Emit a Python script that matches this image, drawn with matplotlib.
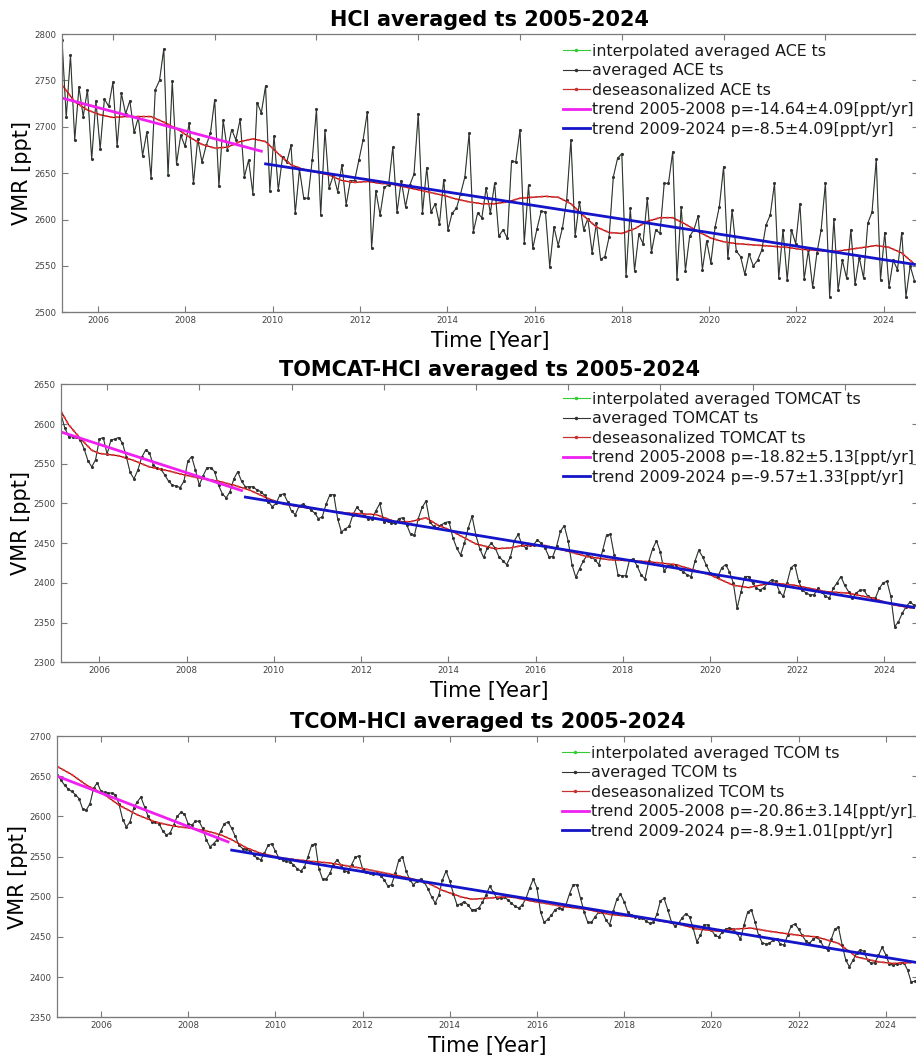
import numpy as np
import matplotlib
matplotlib.use("Agg")
from matplotlib import pyplot as plt
from matplotlib.lines import Line2D

# monthly HCl means [ppt], first value = January 2005
ace_vmr = [
    2794, 2710, 2777, 2686, 2743, 2711, 2740, 2665, 2728, 2676, 2730, 2722,
    2748, 2679, 2736, 2714, 2728, 2694, 2710, 2669, 2694, 2645, 2740, 2750,
    2784, 2648, 2749, 2660, 2691, 2679, 2704, 2639, 2687, 2662, 2680, 2693,
    2729, 2636, 2707, 2675, 2697, 2686, 2708, 2646, 2664, 2628, 2726, 2715,
    2744, 2631, 2690, 2632, 2667, 2662, 2680, 2607, 2654, 2623, 2623, 2664,
    2719, 2605, 2696, 2634, 2648, 2630, 2659, 2616, 2642, 2642, 2664, 2686,
    2716, 2569, 2631, 2605, 2635, 2637, 2678, 2608, 2642, 2614, 2637, 2649,
    2714, 2607, 2656, 2608, 2617, 2595, 2643, 2589, 2607, 2612, 2628, 2646,
    2693, 2587, 2607, 2602, 2634, 2607, 2639, 2582, 2589, 2580, 2663, 2662,
    2697, 2575, 2637, 2569, 2590, 2609, 2608, 2549, 2592, 2572, 2591, 2621,
    2686, 2582, 2619, 2589, 2601, 2564, 2596, 2557, 2560, 2581, 2646, 2666,
    2671, 2539, 2612, 2545, 2584, 2574, 2623, 2565, 2589, 2585, 2639, 2639,
    2673, 2536, 2614, 2545, 2582, 2589, 2604, 2546, 2577, 2553, 2592, 2614,
    2657, 2558, 2610, 2566, 2560, 2541, 2563, 2550, 2556, 2567, 2594, 2605,
    2639, 2537, 2589, 2535, 2589, 2574, 2617, 2536, 2567, 2527, 2564, 2589,
    2639, 2517, 2601, 2524, 2556, 2537, 2589, 2530, 2559, 2537, 2596, 2608,
    2665, 2535, 2586, 2527, 2556, 2546, 2586, 2517, 2550, 2534,
]
tomcat_vmr = [
    2612, 2595, 2584, 2584, 2584, 2580, 2569, 2554, 2546, 2555, 2581, 2583,
    2562, 2580, 2581, 2583, 2576, 2559, 2539, 2531, 2542, 2558, 2567, 2564,
    2549, 2544, 2543, 2536, 2528, 2523, 2522, 2520, 2528, 2553, 2559, 2542,
    2523, 2535, 2545, 2545, 2540, 2523, 2512, 2507, 2515, 2531, 2540, 2528,
    2521, 2521, 2521, 2517, 2515, 2510, 2502, 2496, 2500, 2511, 2512, 2502,
    2490, 2486, 2497, 2499, 2496, 2492, 2488, 2481, 2483, 2499, 2511, 2511,
    2481, 2464, 2468, 2471, 2486, 2495, 2490, 2486, 2480, 2481, 2491, 2500,
    2477, 2478, 2475, 2475, 2481, 2482, 2473, 2461, 2460, 2481, 2495, 2503,
    2477, 2471, 2469, 2473, 2476, 2477, 2457, 2444, 2435, 2450, 2469, 2484,
    2460, 2443, 2432, 2444, 2450, 2444, 2433, 2428, 2423, 2433, 2453, 2461,
    2448, 2444, 2448, 2448, 2454, 2450, 2444, 2433, 2433, 2446, 2465, 2472,
    2453, 2423, 2407, 2418, 2428, 2435, 2433, 2429, 2423, 2441, 2460, 2461,
    2435, 2410, 2409, 2409, 2429, 2430, 2421, 2410, 2405, 2427, 2443, 2453,
    2439, 2415, 2421, 2423, 2423, 2417, 2414, 2410, 2408, 2427, 2441, 2433,
    2422, 2412, 2410, 2408, 2419, 2423, 2414, 2400, 2368, 2389, 2408, 2408,
    2400, 2393, 2391, 2394, 2400, 2404, 2402, 2389, 2383, 2400, 2419, 2423,
    2402, 2391, 2387, 2385, 2385, 2393, 2389, 2383, 2381, 2393, 2400, 2408,
    2397, 2389, 2381, 2387, 2391, 2391, 2383, 2381, 2381, 2393, 2400, 2402,
    2383, 2345, 2351, 2362, 2370, 2376, 2372,
]
tcom_vmr = [
    2652, 2645, 2639, 2634, 2631, 2627, 2622, 2609, 2608, 2616, 2635, 2642,
    2631, 2630, 2629, 2629, 2627, 2615, 2596, 2587, 2593, 2610, 2618, 2624,
    2612, 2600, 2593, 2593, 2591, 2582, 2577, 2579, 2589, 2600, 2605, 2603,
    2591, 2589, 2594, 2594, 2585, 2571, 2562, 2566, 2571, 2582, 2591, 2593,
    2585, 2575, 2564, 2560, 2559, 2557, 2552, 2548, 2546, 2554, 2564, 2566,
    2557, 2548, 2546, 2544, 2543, 2540, 2535, 2532, 2537, 2550, 2564, 2566,
    2535, 2522, 2522, 2529, 2540, 2546, 2540, 2532, 2531, 2540, 2549, 2551,
    2535, 2531, 2529, 2528, 2529, 2526, 2521, 2513, 2515, 2529, 2546, 2550,
    2532, 2521, 2515, 2519, 2522, 2518, 2510, 2500, 2492, 2502, 2521, 2532,
    2520, 2504, 2490, 2491, 2494, 2490, 2484, 2484, 2486, 2493, 2502, 2513,
    2506, 2498, 2498, 2500, 2496, 2492, 2488, 2486, 2490, 2498, 2511, 2522,
    2511, 2481, 2468, 2472, 2477, 2484, 2486, 2485, 2490, 2504, 2515, 2515,
    2498, 2481, 2468, 2468, 2475, 2481, 2481, 2471, 2465, 2482, 2497, 2503,
    2494, 2481, 2477, 2475, 2474, 2474, 2470, 2467, 2468, 2478, 2495, 2498,
    2484, 2469, 2463, 2467, 2474, 2479, 2475, 2461, 2444, 2452, 2465, 2465,
    2459, 2452, 2450, 2456, 2460, 2461, 2460, 2455, 2447, 2465, 2481, 2484,
    2469, 2452, 2443, 2441, 2442, 2446, 2448, 2441, 2440, 2452, 2464, 2466,
    2460, 2452, 2445, 2442, 2447, 2450, 2445, 2437, 2434, 2447, 2460, 2462,
    2440, 2421, 2413, 2421, 2430, 2434, 2432, 2421, 2417, 2418, 2427, 2437,
    2428, 2416, 2415, 2416, 2417, 2418, 2409, 2394, 2395,
]

# deseasonalized series (month index since Jan 2005, ppt)
ace_deseas_month = [0, 3, 6, 9, 12, 15, 18, 21, 24, 27, 30, 33, 36, 39, 42, 45,
                    48, 51, 54, 57, 60, 63, 66, 69, 72, 75, 78, 81, 84, 87, 90,
                    93, 96, 99, 102, 105, 108, 111, 114, 117, 120, 123, 126,
                    129, 132, 135, 138, 141, 144, 147, 150, 153, 156, 159, 162,
                    165, 168, 171, 174, 177, 180, 183, 186, 189, 192, 195, 198,
                    201]
ace_deseas_vmr = [2745, 2727, 2718, 2713, 2710, 2711, 2711, 2711, 2705, 2698,
                  2689, 2681, 2677, 2678, 2684, 2687, 2684, 2671, 2659, 2654,
                  2651, 2648, 2642, 2640, 2641, 2639, 2638, 2635, 2632, 2629,
                  2626, 2622, 2619, 2617, 2617, 2619, 2623, 2624, 2625, 2624,
                  2617, 2604, 2592, 2586, 2585, 2590, 2598, 2602, 2602, 2595,
                  2587, 2580, 2576, 2574, 2573, 2572, 2571, 2570, 2568, 2567,
                  2566, 2566, 2568, 2570, 2572, 2570, 2564, 2552]
tomcat_deseas_month = [0, 2, 5, 8, 10, 15, 19, 23, 28, 32, 36, 41, 45, 49, 54,
                       58, 62, 65, 74, 82, 87, 91, 95, 98, 101, 108, 113, 117,
                       120, 126, 131, 137, 143, 152, 160, 169, 175, 179, 185,
                       191, 199, 205, 211, 217, 222]
tomcat_deseas_vmr = [2616, 2599, 2582, 2567, 2563, 2560, 2554, 2546, 2541, 2536,
                     2532, 2528, 2523, 2517, 2506, 2499, 2496, 2494, 2488, 2486,
                     2477, 2477, 2482, 2473, 2467, 2449, 2443, 2444, 2447, 2447,
                     2441, 2433, 2429, 2427, 2423, 2410, 2397, 2394, 2400, 2397,
                     2389, 2387, 2381, 2372, 2368]
tcom_deseas_month = [0, 4, 8, 13, 17, 22, 27, 32, 37, 41, 45, 48, 52, 56, 62,
                     70, 75, 83, 93, 97, 102, 106, 111, 114, 118, 123, 126, 130,
                     134, 139, 146, 152, 161, 171, 176, 182, 187, 191, 196, 204,
                     209, 215, 220, 226, 230, 235]
tcom_deseas_vmr = [2662, 2652, 2639, 2627, 2614, 2602, 2593, 2588, 2585, 2582,
                   2577, 2571, 2561, 2554, 2548, 2544, 2542, 2536, 2527, 2523,
                   2517, 2508, 2500, 2497, 2498, 2500, 2499, 2495, 2492, 2488,
                   2484, 2478, 2474, 2466, 2460, 2457, 2460, 2461, 2457, 2452,
                   2450, 2442, 2425, 2419, 2417, 2418]

# piecewise trends: (first month, last month), value at first month, slope, error
ace_trend_months = [(0, 47), (48, 201)]
ace_trend_start = [2731, 2660]
ace_trend_p = [-14.64, -8.5]
ace_trend_err = [4.09, 4.09]
tomcat_trend_months = [(0, 47), (48, 222)]
tomcat_trend_start = [2590, 2508]
tomcat_trend_p = [-18.82, -9.57]
tomcat_trend_err = [5.13, 1.33]
tcom_trend_months = [(0, 47), (48, 236)]
tcom_trend_start = [2650, 2558]
tcom_trend_p = [-20.86, -8.9]
tcom_trend_err = [3.14, 1.01]
trend_periods = ["2005-2008", "2009-2024"]

W, H = 916, 1059
fig = plt.figure(figsize=(W / 100, H / 100), dpi=100)


def months_to_year(m):
    return 2005 + np.asarray(m, dtype=float) / 12.0


def label_axis(t0, t1, b0, b1):
    k = (b1 - b0) / (t1 - t0)
    return (lambda t: b0 + (t - t0) * k), (lambda b: t0 + (b - b0) / k)


panels = [
    dict(name="ACE", title="HCl averaged ts 2005-2024",
         vmr=ace_vmr, dm=ace_deseas_month, dv=ace_deseas_vmr,
         tm=ace_trend_months, ts=ace_trend_start, tp=ace_trend_p, te=ace_trend_err,
         box=(62, 34, 312.3), t_end=2021.82, lab=(2005.17, 2024.79),
         ylim=(2500, 2800), leg=(563, 44)),
    dict(name="TOMCAT", title="TOMCAT-HCl averaged ts 2005-2024",
         vmr=tomcat_vmr, dm=tomcat_deseas_month, dv=tomcat_deseas_vmr,
         tm=tomcat_trend_months, ts=tomcat_trend_start, tp=tomcat_trend_p, te=tomcat_trend_err,
         box=(61, 384.3, 662.3), t_end=2023.59, lab=(2005.12, 2024.77),
         ylim=(2300, 2650), leg=(563, 392)),
    dict(name="TCOM", title="TCOM-HCl averaged ts 2005-2024",
         vmr=tcom_vmr, dm=tcom_deseas_month, dv=tcom_deseas_vmr,
         tm=tcom_trend_months, ts=tcom_trend_start, tp=tcom_trend_p, te=tcom_trend_err,
         box=(57.3, 736, 1017.3), t_end=2024.74, lab=(2005.0, 2024.74),
         ylim=(2350, 2700), leg=(562, 746)),
]

frame_col = "#7a7a7a"
tick_col = "#404040"
trend_cols = ["#f020f0", "#1414c8"]

for p in panels:
    left, top, bottom = p["box"]
    right = 918
    ax = fig.add_axes([left / W, 1 - bottom / H, (right - left) / W, (bottom - top) / H])

    vmr = np.array(p["vmr"], dtype=float)
    t = months_to_year(np.arange(len(vmr)))

    # interpolated series sits underneath the averaged one
    ax.plot(t, vmr, color="#33cc33", lw=0.25)
    ax.plot(t, vmr, color="#333333", lw=0.8, marker=".", ms=2.5)
    td = months_to_year(p["dm"])
    ax.plot(td, p["dv"], color="#7a1414", lw=0.9)
    ax.plot(td, p["dv"], color="#ff3030", lw=1.3, dashes=(1.6, 1.4))
    for (m0, m1), v0, slope, col in zip(p["tm"], p["ts"], p["tp"], trend_cols):
        tt = months_to_year([m0, m1])
        ax.plot(tt, v0 + slope * (tt - tt[0]), color=col, lw=2.0)

    # data years on the top edge, unlabeled
    ax.set_xticks(np.arange(2006, 2026, 2))
    ax.set_yticks(np.arange(p["ylim"][0], p["ylim"][1] + 1, 50))
    t0 = 2005.0
    ax.set_xlim(t0, p["t_end"])
    ax.set_ylim(*p["ylim"])
    ax.tick_params(axis="x", bottom=False, labelbottom=False, top=True, labeltop=False,
                   direction="in", length=4, width=0.8, color=frame_col)
    ax.tick_params(axis="y", left=True, right=True, direction="in", length=4, width=0.8,
                   color=frame_col, labelsize=6.2, labelcolor=tick_col, pad=4)
    for s in ax.spines.values():
        s.set_color(frame_col)
        s.set_linewidth(0.9)

    fwd, inv = label_axis(t0, p["t_end"], *p["lab"])
    sec = ax.secondary_xaxis("bottom", functions=(fwd, inv))
    sec.set_xticks(np.arange(2006, 2025, 2))
    sec.tick_params(direction="in", length=4, width=0.8, color=frame_col,
                    labelsize=6.2, labelcolor=tick_col, pad=3)
    sec.spines["bottom"].set_color(frame_col)
    sec.set_xlabel("Time [Year]", fontsize=15, labelpad=4)

    ax.set_ylabel("VMR [ppt]", fontsize=15, labelpad=1.5)
    ax.set_title(p["title"], fontsize=15, fontweight="bold", pad=6)

    handles = [
        Line2D([], [], color="#33cc33", lw=0.8, marker=".", ms=3),
        Line2D([], [], color="#333333", lw=0.8, marker=".", ms=3),
        Line2D([], [], color="#c83030", lw=0.9, marker=".", ms=3),
        Line2D([], [], color=trend_cols[0], lw=2.0),
        Line2D([], [], color=trend_cols[1], lw=2.0),
    ]
    labels = [
        f"interpolated averaged {p['name']} ts",
        f"averaged {p['name']} ts",
        f"deseasonalized {p['name']} ts",
    ] + [f"trend {per} p={slope}\u00b1{err}[ppt/yr]"
         for per, slope, err in zip(trend_periods, p["tp"], p["te"])]
    lx, ly = p["leg"]
    ax.legend(handles, labels, loc="upper left", bbox_to_anchor=(lx / W, 1 - ly / H),
              bbox_transform=fig.transFigure, frameon=False, fontsize=11.4,
              borderpad=0, borderaxespad=0, handlelength=1.7, handletextpad=0.15,
              labelspacing=0.28, labelcolor="#1a1a1a")

fig.savefig("out.png", dpi=100)
